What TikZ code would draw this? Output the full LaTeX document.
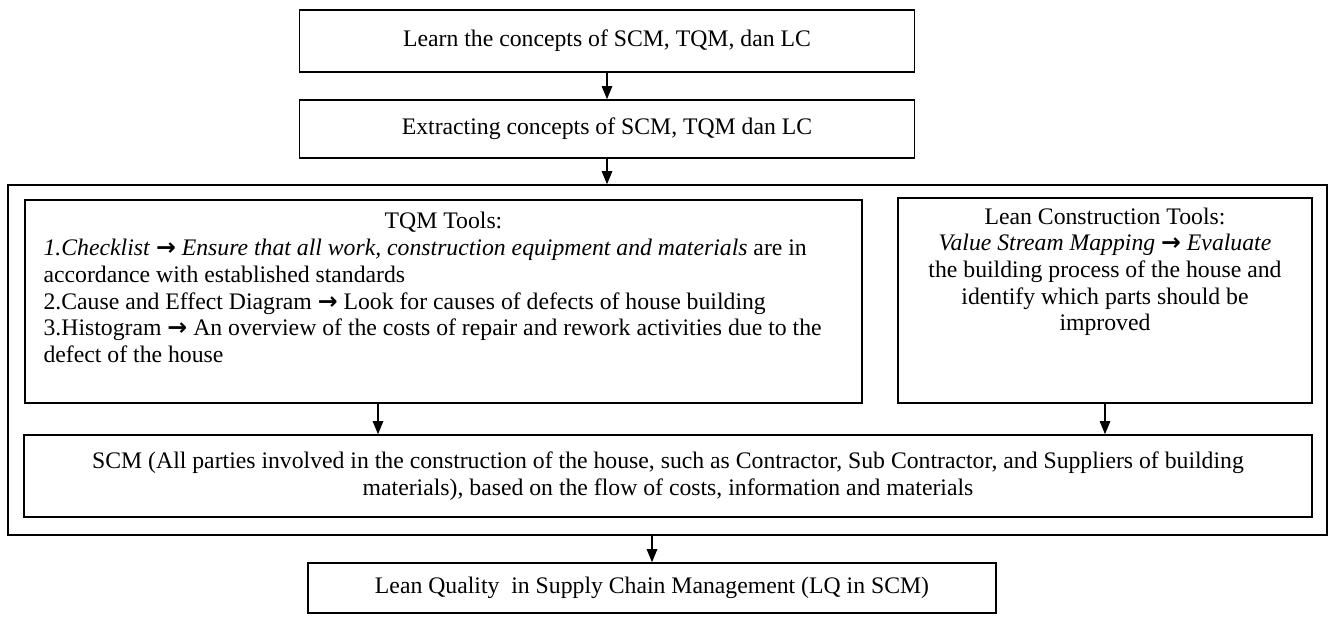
\documentclass[tikz,border=0pt]{standalone}
\usepackage{fontspec}
\setmainfont{Liberation Serif}
\newfontfamily\arrowfont{DejaVu Sans}
\usepackage{tikz}
\usetikzlibrary{arrows,arrows.meta,shapes,positioning,calc}
\newcommand{\goesto}{{\arrowfont\bfseries →}}
\tikzstyle{arrow} = [line width=0.6pt,-{Triangle[length=2.6mm,width=2.1mm]}]
\tikzstyle{flowbox} = [rectangle, draw, line width=0.95pt, inner sep=0pt, text centered]
\tikzstyle{boxtext} = [inner sep=0pt, anchor=north]

\begin{document}
\begin{tikzpicture}[x=0.02cm, y=-0.02cm, font=\fontsize{13.5}{15.2}\selectfont]
    \useasboundingbox (0,0) rectangle (1331,616);

    % Concepts
    \node[flowbox, minimum width=12.3cm, minimum height=1.24cm] (learn) at (607,41) {Learn the concepts of SCM, TQM, dan LC};
    \node[flowbox, minimum width=12.3cm, minimum height=1.16cm] (extract) at (607,129) {Extracting concepts of SCM, TQM dan LC};

    % Tools frame
    \node[flowbox, minimum width=26.38cm, minimum height=7cm] (outer) at (667.5,360) {};
    \node[flowbox, minimum width=16.74cm, minimum height=4.06cm] (tqm) at (443.5,301.5) {};
    \node[boxtext] (tqmtitle) at ($(tqm.north)+(0,10)$) {TQM Tools:\strut};
    \coordinate (tqmleft) at ($(tqm.west)+(19,0)$);
    \node[boxtext, anchor=north west, align=left] (tqmlist) at (tqmtitle.south -| tqmleft) {%
        \strut\textit{1.Checklist} \goesto{} \textit{Ensure that all work, construction equipment and materials} are in\\
        accordance with established standards\\
        2.Cause and Effect Diagram \goesto{} Look for causes of defects of house building\\
        3.Histogram \goesto{} An overview of the costs of repair and rework activities due to the\\
        defect of the house};
    \node[flowbox, minimum width=8.28cm, minimum height=4.1cm] (lean) at (1105,300.5) {};
    \node[boxtext, align=center] (leantext) at ($(lean.north)+(0,10)$) {%
        Lean Construction Tools:\\
        \textit{Value Stream Mapping} \goesto{} \textit{Evaluate}\\
        the building process of the house and\\
        identify which parts should be\\
        improved};
    \node[flowbox, minimum width=25.76cm, minimum height=1.64cm, align=center] (scm) at (668,476) {SCM (All parties involved in the construction of the house, such as Contractor, Sub Contractor, and Suppliers of building\\ materials), based on the flow of costs, information and materials};

    % Result
    \node[flowbox, minimum width=13.76cm, minimum height=1cm] (lq) at (652,588) {Lean Quality\ \ in Supply Chain Management (LQ in SCM)};

    % Arrows
    \coordinate (tqmdrop) at (378,0);
    \draw[arrow] (learn) -- (extract);
    \draw[arrow] (extract) -- (extract |- outer.north);
    \draw[arrow] (tqm.south -| tqmdrop) -- (scm.north -| tqmdrop);
    \draw[arrow] (lean) -- (lean |- scm.north);
    \draw[arrow] (lq |- outer.south) -- (lq);
\end{tikzpicture}
\end{document}
